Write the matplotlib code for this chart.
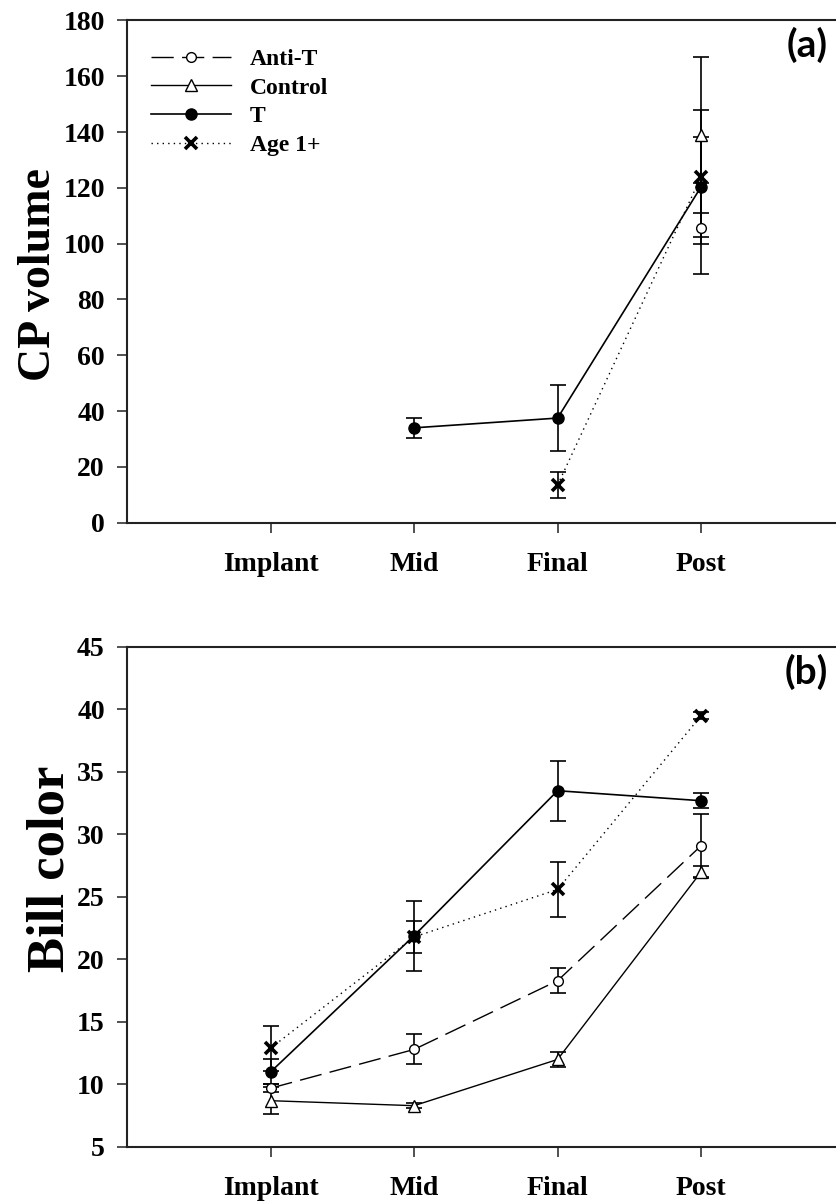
import numpy as np
import matplotlib
matplotlib.use('Agg')
import matplotlib.pyplot as plt
from matplotlib.lines import Line2D

nan = np.nan

# ── datos ─────────────────────────────────────────────────────────────
etapas = ['Implant', 'Mid', 'Final', 'Post']
pos = [1, 2, 3, 4]

# (a) CP volume
cp_antit = [nan, nan, nan, 105.5]
cp_antit_err = [nan, nan, nan, 16.3]
cp_control = [nan, nan, nan, 138.9]
cp_control_err = [nan, nan, nan, 28.0]
cp_t = [nan, 34.0, 37.5, 120.4]
cp_t_err = [nan, 3.5, 11.9, 17.9]
cp_age = [nan, nan, 13.5, 124.0]
cp_age_err = [nan, nan, 4.5, 24.0]

# (b) Bill color
bill_antit = [9.7, 12.8, 18.3, 29.1]
bill_antit_err = [0.3, 1.2, 1.0, 2.5]
bill_control = [8.7, 8.3, 12.0, 27.0]
bill_control_err = [1.1, 0.2, 0.6, 0.5]
bill_t = [11.0, 21.9, 33.5, 32.7]
bill_t_err = [1.0, 2.8, 2.4, 0.6]
bill_age = [12.9, 21.8, 25.6, 39.5]
bill_age_err = [1.8, 1.3, 2.2, 0.3]

SERIF = 'Liberation Serif'
DASH = (0, (16, 6))
DOT = (0, (1, 3))

# estilo de cada serie
estilos = {
    'Anti-T':  dict(ls=DASH, marker='o', mfc='white', ms=7, lw=1.0, mew=1.0),
    'Control': dict(ls='-', marker='^', mfc='white', ms=8, lw=1.0, mew=1.0),
    'T':       dict(ls='-', marker='o', mfc='black', ms=8, lw=1.2, mew=1.0),
    'Age 1+':  dict(ls=DOT, marker='x', mfc='black', ms=8, lw=1.0, mew=2.6),
}


def dibujar(ax, series):
    for nombre, y, e in series:
        st = estilos[nombre]
        # barras de error aparte, para que el grosor del marcador no las afecte
        ax.errorbar(pos, y, yerr=e, fmt='none', ecolor='black',
                    elinewidth=1.2, capsize=6, capthick=1.2, zorder=2)
        ax.plot(pos, y, color='black', ls=st['ls'], lw=st['lw'],
                marker=st['marker'], mfc=st['mfc'], mec='black',
                ms=st['ms'], mew=st['mew'], zorder=3)


def estilo_ejes(ax, ylim, yticks, ylabel, tam_label, pos_label, letra):
    ax.set_xlim(0, 4.94)
    ax.set_ylim(*ylim)
    ax.set_yticks(yticks)
    ax.set_xticks(pos)
    ax.set_xticklabels(etapas)
    for lab in ax.get_xticklabels() + ax.get_yticklabels():
        lab.set_fontfamily(SERIF)
        lab.set_fontweight('bold')
        lab.set_fontsize(20)
    ax.tick_params(direction='out', length=7, width=1.2, color='#333333')
    ax.tick_params(axis='x', pad=14)
    ax.tick_params(axis='y', pad=9)
    ax.spines['right'].set_visible(False)
    for s in ['top', 'left', 'bottom']:
        ax.spines[s].set_linewidth(1.5)
        ax.spines[s].set_color('#222222')
    ax.set_ylabel(ylabel, fontfamily=SERIF, fontweight='bold',
                  fontsize=tam_label)
    ax.yaxis.set_label_coords(*pos_label)
    ax.text(0.989, 0.951, letra, transform=ax.transAxes, ha='right',
            va='center', fontfamily='Lato', fontweight='bold', fontsize=28)


fig = plt.figure(figsize=(8.36, 12.03), dpi=100)
ax1 = fig.add_axes([0.152, 0.5655, 0.848, 0.4175])
ax2 = fig.add_axes([0.152, 0.0466, 0.848, 0.4156])

dibujar(ax1, [('Anti-T', cp_antit, cp_antit_err),
              ('Control', cp_control, cp_control_err),
              ('Age 1+', cp_age, cp_age_err),
              ('T', cp_t, cp_t_err)])
estilo_ejes(ax1, (0, 180), range(0, 181, 20), 'CP volume', 33,
            (-0.094, 0.495), '(a)')

dibujar(ax2, [('Anti-T', bill_antit, bill_antit_err),
              ('Control', bill_control, bill_control_err),
              ('Age 1+', bill_age, bill_age_err),
              ('T', bill_t, bill_t_err)])
estilo_ejes(ax2, (5, 45), range(5, 46, 5), 'Bill color', 38,
            (-0.074, 0.556), '(b)')

# leyenda
handles = []
for nombre in ['Anti-T', 'Control', 'T', 'Age 1+']:
    st = estilos[nombre]
    handles.append(Line2D([], [], color='black', ls=st['ls'], lw=st['lw'],
                          marker=st['marker'], mfc=st['mfc'], mec='black',
                          ms=st['ms'], mew=st['mew']))
ax1.legend(handles, ['Anti-T', 'Control', 'T', 'Age 1+'], loc='upper left',
           bbox_to_anchor=(0.02, 0.963), frameon=False, handlelength=3.4,
           handletextpad=0.8, labelspacing=0.3, borderaxespad=0,
           prop=dict(family=SERIF, weight='bold', size=17))

fig.savefig('out.png', dpi=100)
